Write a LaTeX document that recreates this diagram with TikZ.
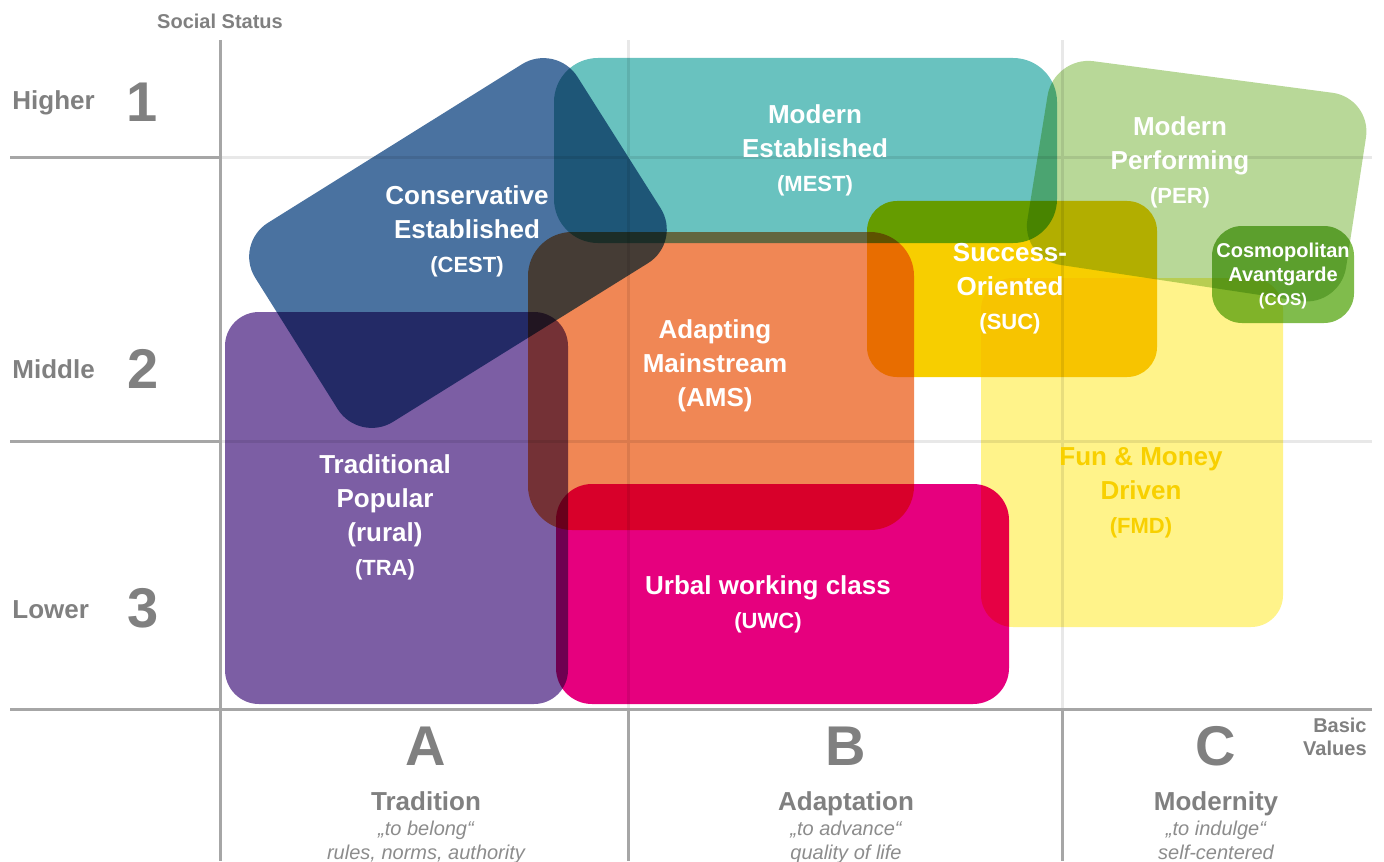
\documentclass[tikz,border=0pt]{standalone}
\usepackage{fontspec}
\setmainfont{Liberation Sans}

\definecolor{axisgray}{RGB}{166,166,166}
\definecolor{gridgray}{RGB}{232,232,232}
\definecolor{labelgray}{RGB}{128,128,128}
\definecolor{mottogray}{RGB}{140,140,140}
\definecolor{cestcol}{RGB}{74,114,160}
\definecolor{mestcol}{RGB}{105,194,191}
\definecolor{percol}{RGB}{184,216,152}
\definecolor{succol}{RGB}{247,206,0}
\definecolor{coscol}{RGB}{128,188,76}
\definecolor{amscol}{RGB}{240,135,85}
\definecolor{tracol}{RGB}{124,94,164}
\definecolor{uwccol}{RGB}{230,0,126}
\definecolor{fmdcol}{RGB}{255,243,138}
\definecolor{fmdtext}{RGB}{248,208,0}

\newcommand{\milieucode}[1]{{\fontsize{11}{13}\selectfont #1}}

\tikzset{
  axisline/.style={draw=axisgray, line width=1.5pt},
  gridline/.style={draw=gridgray, line width=1.5pt},
  milieu/.style={text=white, font=\bfseries\fontsize{13}{17}\selectfont, align=center, inner sep=0pt},
  level/.style={text=labelgray, font=\bfseries\fontsize{13}{15}\selectfont, anchor=base west, inner sep=0pt},
  bignum/.style={text=labelgray, font=\bfseries\fontsize{28}{30}\selectfont, anchor=base, inner sep=0pt},
  valuename/.style={text=labelgray, font=\bfseries\fontsize{13}{15}\selectfont, anchor=base, inner sep=0pt},
  motto/.style={text=mottogray, font=\itshape\fontsize{10}{12}\selectfont, anchor=base, inner sep=0pt},
  axistitle/.style={text=labelgray, font=\bfseries\fontsize{10}{11.5}\selectfont, inner sep=0pt},
}

\begin{document}
\begin{tikzpicture}[x=0.5pt, y=-0.5pt]
  \useasboundingbox (0,0) rectangle (1384,861);
  \clip (0,0) rectangle (1384,861);

  % light grid inside the field
  \draw[gridline] (220,158) -- (1372,158);
  \draw[gridline] (220,441) -- (1372,441);
  \draw[gridline] (628,40) -- (628,709);
  \draw[gridline] (1062,40) -- (1062,709);

  % axes
  \draw[axisline] (10,158) -- (220,158);
  \draw[axisline] (10,441) -- (220,441);
  \draw[axisline] (220,40) -- (220,861);
  \draw[axisline] (10,709) -- (1372,709);
  \draw[axisline] (628,709) -- (628,861);
  \draw[axisline] (1062,709) -- (1062,861);

  % milieu areas, overlaps darken
  \begin{scope}[blend mode=multiply]
    \fill[tracol, rounded corners=17pt] (225,312) rectangle (568,704);
    \fill[uwccol, rounded corners=18pt] (556,484) rectangle (1009,704);
    \fill[amscol, rounded corners=22pt] (528,232) rectangle (914,530);
    \fill[mestcol, rounded corners=22pt] (554,58) rectangle (1057,243);
    \fill[fmdcol, rounded corners=16pt] (981,278) rectangle (1283,627);
    \fill[succol, rounded corners=15pt] (867,201) rectangle (1157,377);
    \fill[percol, rounded corners=20pt] (1054,56) -- (1372,98) -- (1340,307) -- (1021,259) -- cycle;
    \fill[coscol, rounded corners=15pt] (1212,226) rectangle (1354,323);
    \fill[cestcol, rounded corners=20pt] (556,43) -- (682,242) -- (359,443) -- (234,244) -- cycle;
  \end{scope}

  % milieu names
  \node[milieu] (cest) at (467,231) {Conservative\\Established\\\milieucode{(CEST)}};
  \node[milieu] (mest) at (815,150) {Modern\\Established\\\milieucode{(MEST)}};
  \node[milieu] (per) at (1180,162) {Modern\\Performing\\\milieucode{(PER)}};
  \node[milieu] (suc) at (1010,289) {Success-\\Oriented\\\milieucode{(SUC)}};
  \node[milieu, font=\bfseries\fontsize{10}{12}\selectfont] (cos) at (1283,276)
    {Cosmopolitan\\Avantgarde\\{\fontsize{8.5}{10}\selectfont (COS)}};
  \node[milieu] (ams) at (715,366) {Adapting\\Mainstream\\(AMS)};
  \node[milieu] (tra) at (385,517) {Traditional\\Popular\\(rural)\\\milieucode{(TRA)}};
  \node[milieu, text=fmdtext] (fmd) at (1141,493) {Fun \& Money\\Driven\\\milieucode{(FMD)}};
  \node[milieu] (uwc) at (768,604) {Urbal working class\\\milieucode{(UWC)}};

  % social status axis
  \node[axistitle] (status) at (220,21) {Social Status};
  \node[level] (higher) at (12,110) {Higher};
  \node[bignum] (one) at (142,122) {1};
  \node[level] (middle) at (12,378) {Middle};
  \node[bignum] (two) at (143,388) {2};
  \node[level] (lower) at (12,618) {Lower};
  \node[bignum] (three) at (143,627) {3};

  % basic values axis
  \node[axistitle, anchor=east, align=right] (values) at (1367,737) {Basic\\Values};
  \node[bignum] (colA) at (426,765) {A};
  \node[valuename] (tradition) at (426,810) {Tradition};
  \node[motto] (belong) at (426,835) {„to belong“};
  \node[motto] (rules) at (426,859) {rules, norms, authority};
  \node[bignum] (colB) at (846,765) {B};
  \node[valuename] (adaptation) at (846,810) {Adaptation};
  \node[motto] (advance) at (846,835) {„to advance“};
  \node[motto] (quality) at (846,859) {quality of life};
  \node[bignum] (colC) at (1216,765) {C};
  \node[valuename] (modernity) at (1216,810) {Modernity};
  \node[motto] (indulge) at (1216,835) {„to indulge“};
  \node[motto] (self) at (1216,859) {self-centered};
\end{tikzpicture}
\end{document}
